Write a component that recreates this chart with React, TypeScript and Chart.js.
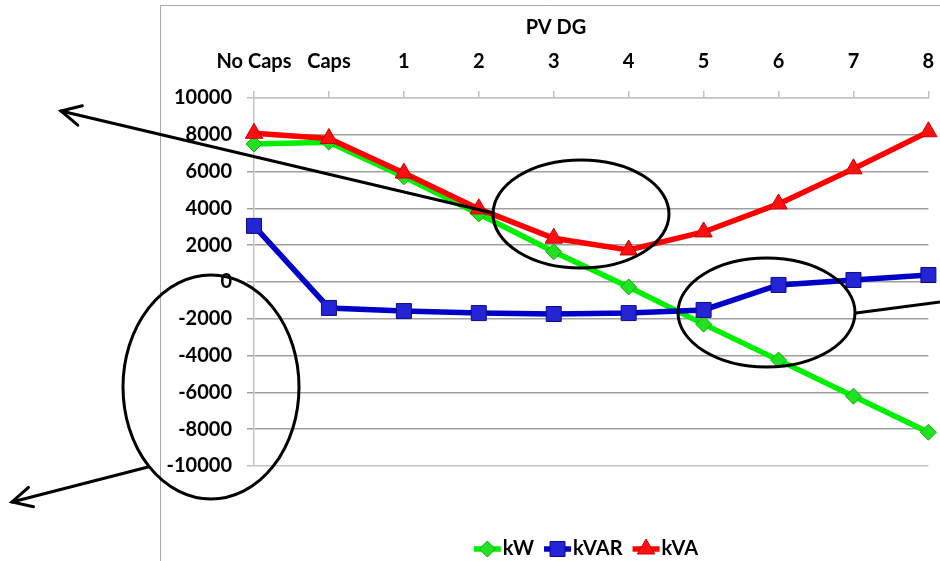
import React, { useEffect, useRef } from 'react';
import { Chart, registerables } from 'chart.js';

Chart.register(...registerables);

// ---------- data ----------
const categories = ['No Caps', 'Caps', '1', '2', '3', '4', '5', '6', '7', '8'];
const kW = [7500, 7600, 5720, 3700, 1640, -270, -2290, -4245, -6205, -8165];
const kVAR = [3050, -1410, -1580, -1690, -1740, -1690, -1520, -160, 110, 380];
const kVA = [8080, 7800, 5920, 3975, 2380, 1740, 2720, 4245, 6150, 8165];
const yMin = -10000;
const yMax = 10000;
const yStep = 2000;
const axisTitle = 'PV DG';
const seriesNames = ['kW', 'kVAR', 'kVA'];

// ---------- annotation shapes (page pixels) ----------
const ellipses = [
  { cx: 581, cy: 214, rx: 88, ry: 54 },
  { cx: 766.5, cy: 312.5, rx: 88.5, ry: 54.5 },
  { cx: 211, cy: 387, rx: 88, ry: 112 },
];
const arrows = [
  { x1: 493, y1: 213, x2: 61, y2: 111, head: true },
  { x1: 148, y1: 467, x2: 12, y2: 502, head: true },
  { x1: 856, y1: 313, x2: 945, y2: 301.3, head: false },
];

const FONT = 'Lato, "Open Sans", sans-serif';

const GREEN = { line: '#00f000', fill: '#22e022', border: '#0fae0f' };
const BLUE = { line: '#0000c8', fill: '#2424d4', border: '#0c0c8a' };
const RED = { line: '#ff0000', fill: '#ff1010', border: '#c80000' };

function drawMarker(ctx: CanvasRenderingContext2D, style: string, x: number, y: number, fill: string, border: string) {
  ctx.save();
  ctx.beginPath();
  if (style === 'rectRot') {
    const r = 8;
    ctx.moveTo(x - r, y);
    ctx.lineTo(x, y - r);
    ctx.lineTo(x + r, y);
    ctx.lineTo(x, y + r);
    ctx.closePath();
  } else if (style === 'rect') {
    const s = 7.5;
    ctx.rect(x - s, y - s, 2 * s, 2 * s);
  } else {
    const r = 10;
    ctx.moveTo(x, y - r);
    ctx.lineTo(x + r * Math.sin((2 * Math.PI) / 3), y - r * Math.cos((2 * Math.PI) / 3));
    ctx.lineTo(x + r * Math.sin((4 * Math.PI) / 3), y - r * Math.cos((4 * Math.PI) / 3));
    ctx.closePath();
  }
  ctx.fillStyle = fill;
  ctx.fill();
  ctx.lineWidth = 1;
  ctx.strokeStyle = border;
  ctx.stroke();
  ctx.restore();
}

const decorPlugin = {
  id: 'decor',
  beforeDraw(chart: any) {
    const ctx: CanvasRenderingContext2D = chart.ctx;
    ctx.save();
    ctx.fillStyle = '#ffffff';
    ctx.fillRect(0, 0, chart.width, chart.height);
    // chart frame
    ctx.strokeStyle = '#a8a8a8';
    ctx.lineWidth = 1;
    ctx.beginPath();
    ctx.moveTo(160.5, chart.height);
    ctx.lineTo(160.5, 5.5);
    ctx.lineTo(chart.width, 5.5);
    ctx.stroke();
    // axis title
    ctx.fillStyle = '#000';
    ctx.font = `bold 20px ${FONT}`;
    ctx.textAlign = 'center';
    ctx.textBaseline = 'middle';
    ctx.fillText(axisTitle, 556, 28);
    ctx.restore();
  },
  afterDraw(chart: any) {
    const ctx: CanvasRenderingContext2D = chart.ctx;
    ctx.save();
    // legend
    ctx.font = `bold 20px ${FONT}`;
    ctx.textBaseline = 'middle';
    ctx.textAlign = 'left';
    const ds = chart.data.datasets;
    const symW = 27;
    const textGap = 2;
    const itemGap = 10;
    const widths = ds.map((d: any) => symW + textGap + ctx.measureText(d.label).width);
    const total = widths.reduce((a: number, b: number) => a + b, 0) + itemGap * (ds.length - 1);
    let x = 586 - total / 2;
    const ly = 549;
    ds.forEach((d: any, i: number) => {
      ctx.strokeStyle = d.borderColor;
      ctx.lineWidth = 5.5;
      ctx.beginPath();
      ctx.moveTo(x, ly);
      ctx.lineTo(x + symW, ly);
      ctx.stroke();
      drawMarker(ctx, d.pointStyle, x + symW / 2, ly, d.pointBackgroundColor, d.pointBorderColor);
      ctx.fillStyle = '#000';
      ctx.fillText(d.label, x + symW + textGap, ly);
      x += widths[i] + itemGap;
    });
    // annotations
    ctx.strokeStyle = '#000';
    ctx.lineWidth = 3;
    ctx.lineCap = 'round';
    ellipses.forEach((e) => {
      ctx.beginPath();
      ctx.ellipse(e.cx, e.cy, e.rx, e.ry, 0, 0, Math.PI * 2);
      ctx.stroke();
    });
    arrows.forEach((a) => {
      ctx.beginPath();
      ctx.moveTo(a.x1, a.y1);
      ctx.lineTo(a.x2, a.y2);
      ctx.stroke();
      if (a.head) {
        const ang = Math.atan2(a.y1 - a.y2, a.x1 - a.x2);
        const len = 22;
        const spread = (27 * Math.PI) / 180;
        ctx.beginPath();
        ctx.moveTo(a.x2 + len * Math.cos(ang - spread), a.y2 + len * Math.sin(ang - spread));
        ctx.lineTo(a.x2, a.y2);
        ctx.lineTo(a.x2 + len * Math.cos(ang + spread), a.y2 + len * Math.sin(ang + spread));
        ctx.stroke();
      }
    });
    ctx.restore();
  },
};

export default function App() {
  const ref = useRef<HTMLCanvasElement | null>(null);

  useEffect(() => {
    if (!ref.current) return;
    const font = { family: FONT, size: 20, weight: 'bold' as const };
    const chart = new Chart(ref.current, {
      type: 'line',
      data: {
        labels: categories,
        datasets: [
          {
            label: seriesNames[0],
            data: kW,
            borderColor: GREEN.line,
            backgroundColor: GREEN.line,
            pointBackgroundColor: GREEN.fill,
            pointBorderColor: GREEN.border,
            pointStyle: 'rectRot',
            pointRadius: 8,
            borderWidth: 5.5,
            pointBorderWidth: 1,
            order: 3,
          },
          {
            label: seriesNames[1],
            data: kVAR,
            borderColor: BLUE.line,
            backgroundColor: BLUE.line,
            pointBackgroundColor: BLUE.fill,
            pointBorderColor: BLUE.border,
            pointStyle: 'rect',
            pointRadius: 10.6,
            borderWidth: 5.5,
            pointBorderWidth: 1,
            order: 2,
          },
          {
            label: seriesNames[2],
            data: kVA,
            borderColor: RED.line,
            backgroundColor: RED.line,
            pointBackgroundColor: RED.fill,
            pointBorderColor: RED.border,
            pointStyle: 'triangle',
            pointRadius: 10,
            borderWidth: 5.5,
            pointBorderWidth: 1,
            order: 1,
          },
        ],
      } as any,
      options: {
        animation: false,
        responsive: false,
        devicePixelRatio: 1,
        layout: { padding: { left: 160, top: 50, right: 8, bottom: 95 } },
        plugins: {
          legend: { display: false },
          tooltip: { enabled: false },
        },
        scales: {
          x: {
            position: 'top',
            offset: false,
            grid: {
              display: true,
              drawOnChartArea: false,
              drawTicks: true,
              tickLength: 7,
              color: '#c2c2c2',
              lineWidth: 1.5,
            },
            border: { display: true, color: '#c2c2c2', width: 1.5 },
            ticks: { padding: 17, color: '#000', font, maxRotation: 0, autoSkip: false },
            afterFit: (s: any) => {
              s.height = 48;
              s.paddingLeft = 0;
              s.paddingRight = 0;
            },
          },
          y: {
            min: yMin,
            max: yMax,
            ticks: {
              stepSize: yStep,
              padding: 15,
              color: '#000',
              font,
              callback: (v: any) => String(v),
            },
            grid: {
              color: (c: any) =>
                c.tick && (c.tick.value === yMax || c.tick.value === yMin) ? '#c4c4c4' : '#a0a0a0',
              tickLength: 7,
              lineWidth: 1.5,
            },
            border: { display: true, color: '#c4c4c4', width: 1.5 },
            afterFit: (s: any) => {
              s.width = 94;
              s.paddingTop = 0;
              s.paddingBottom = 0;
            },
          },
        },
      } as any,
      plugins: [decorPlugin],
    });
    return () => chart.destroy();
  }, []);

  return (
    <div style={{ position: 'absolute', left: 0, top: 0, width: 940, height: 561, overflow: 'hidden' }}>
      <canvas ref={ref} width={940} height={561} style={{ display: 'block' }} />
    </div>
  );
}
